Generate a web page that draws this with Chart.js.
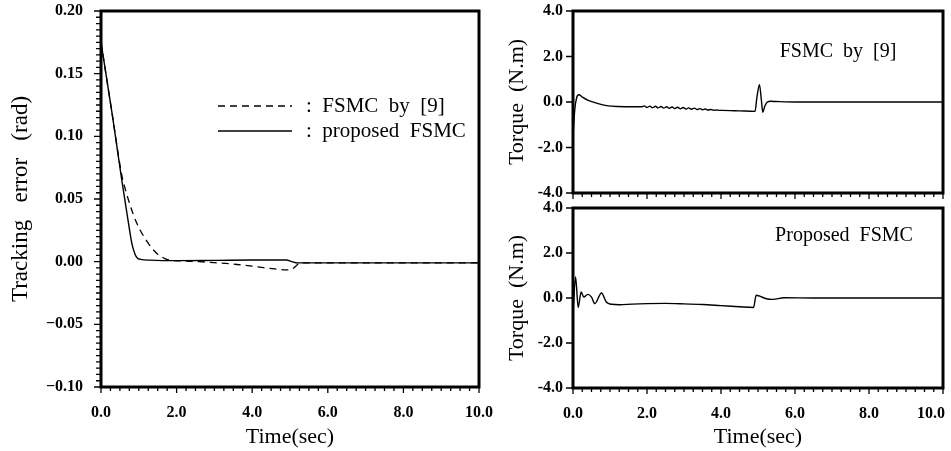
<!DOCTYPE html>
<html>
<head>
<meta charset="UTF-8">
<title>Tracking error and control torque</title>
<script src="https://cdn.jsdelivr.net/npm/chart.js"></script>
<style>
  body { margin: 0; background: #fff; }
  #wrap { position: relative; width: 951px; height: 451px; overflow: hidden; }
  canvas { position: absolute; }
</style>
</head>
<body>
<div id="wrap">
  <canvas id="errChart" width="500" height="451" style="left:0;top:0"></canvas>
  <canvas id="torqueTop" width="451" height="200" style="left:500px;top:0"></canvas>
  <canvas id="torqueBottom" width="451" height="251" style="left:500px;top:200px"></canvas>
</div>
<script>
// axis ticks
const timeTicks = [0, 2, 4, 6, 8, 10];
const errTicks = [-0.10, -0.05, 0, 0.05, 0.10, 0.15, 0.20];
const torqueTicks = [-4, -2, 0, 2, 4];

// tracking error, FSMC by [9] (dashed)
const tOld = [0, 0.3, 0.55, 0.68, 0.85, 1.03, 1.2, 1.34, 1.5, 1.69, 1.9, 2.2, 2.6, 3.0, 3.4, 3.7, 4.0, 4.3, 4.6, 4.9, 5.05, 5.18, 5.26, 5.4, 6, 8, 10];
const errOld = [0.175, 0.117, 0.069, 0.054, 0.038, 0.0255, 0.017, 0.011, 0.006, 0.0025, 0.001, 0.0005, 0, -0.0008, -0.0016, -0.0026, -0.0036, -0.0048, -0.0058, -0.0066, -0.006, -0.0028, -0.0006, -0.001, -0.001, -0.001, -0.001];

// tracking error, proposed FSMC (solid)
const tNew = [0, 0.3, 0.55, 0.7, 0.82, 0.9, 0.96, 1.05, 1.3, 2.0, 3.0, 4.0, 4.9, 5.05, 5.2, 6, 8, 10];
const errNew = [0.175, 0.117, 0.065, 0.036, 0.014, 0.006, 0.003, 0.0018, 0.0012, 0.0008, 0.001, 0.0013, 0.0013, 0.0, -0.001, -0.001, -0.001, -0.001];

// torque, FSMC by [9]
const tTorqueOld = [0, 0.05, 0.1, 0.16, 0.25, 0.41, 0.68, 0.95, 1.22, 1.6,
  1.85, 1.93, 2.00, 2.08, 2.15, 2.23, 2.30, 2.38, 2.45, 2.53, 2.60, 2.68, 2.75, 2.83, 2.90, 2.98,
  3.05, 3.13, 3.20, 3.28, 3.35, 3.43, 3.50, 3.58, 3.65, 3.73, 3.80, 3.88, 3.95, 4.03,
  4.5, 4.92, 4.97, 5.04, 5.09, 5.13, 5.18, 5.24, 5.35, 5.5, 6, 10];
const torqueOld = [-1.5, -0.3, 0.2, 0.32, 0.22, 0.07, -0.07, -0.17, -0.2, -0.21,
  -0.21, -0.17, -0.24, -0.18, -0.25, -0.19, -0.26, -0.2, -0.27, -0.21, -0.28, -0.22, -0.29, -0.23, -0.3, -0.24,
  -0.31, -0.26, -0.32, -0.27, -0.33, -0.29, -0.34, -0.31, -0.35, -0.33, -0.36, -0.35, -0.37, -0.37,
  -0.39, -0.41, 0.2, 0.76, 0.1, -0.45, -0.2, -0.02, 0.03, 0.02, 0, 0];

// torque, proposed FSMC
const tTorqueNew = [0, 0.07, 0.14, 0.22, 0.29, 0.4, 0.5, 0.59, 0.77, 0.9, 1.04, 1.26, 1.6, 2.0, 2.5, 3.0, 3.5, 4.0, 4.5, 4.88, 4.95, 5.05, 5.2, 5.4, 5.7, 6.5, 10];
const torqueNew = [-0.68, 0.93, -0.42, 0.27, 0.04, 0.16, 0.04, -0.25, 0.22, -0.18, -0.28, -0.3, -0.27, -0.25, -0.24, -0.26, -0.29, -0.34, -0.39, -0.42, 0.12, 0.08, -0.02, -0.06, 0.01, 0, 0];

const SERIF = '"Liberation Serif", "Times New Roman", serif';
Chart.defaults.font.family = SERIF;
Chart.defaults.color = '#000';

const pts = (xs, ys) => xs.map((x, i) => ({ x, y: ys[i] }));

// keep the plot box where layout.padding puts it, labels may overhang
const noOverhang = s => { s.paddingLeft = s.paddingRight = s.paddingTop = s.paddingBottom = 0; };

// heavy box round the plot area plus small outward ticks
const framePlugin = {
  id: 'frame',
  afterDatasetsDraw(chart, args, opts) {
    const { ctx, chartArea: a, scales: { x, y } } = chart;
    ctx.save();
    ctx.strokeStyle = '#000';
    ctx.lineWidth = 1.3;
    ctx.beginPath();
    if (opts.xMinor) {
      const n = Math.round((x.max - x.min) / opts.xMinor);
      for (let i = 0; i <= n; i++) {
        const v = x.min + i * opts.xMinor;
        const px = x.getPixelForValue(v);
        const major = timeTicks.some(t => Math.abs(t - v) < 1e-6);
        ctx.moveTo(px, a.bottom);
        ctx.lineTo(px, a.bottom + (major ? 6 : 4));
      }
    }
    if (opts.yMinor) {
      const n = Math.round((y.max - y.min) / opts.yMinor);
      for (let i = 0; i <= n; i++) {
        const py = y.getPixelForValue(y.min + i * opts.yMinor);
        ctx.moveTo(a.left, py);
        ctx.lineTo(a.left - 5, py);
      }
    }
    y.ticks.forEach(t => {
      const py = y.getPixelForValue(t.value);
      ctx.moveTo(a.left, py);
      ctx.lineTo(a.left - 7, py);
    });
    ctx.stroke();
    ctx.lineWidth = 3;
    ctx.strokeRect(a.left, a.top, a.right - a.left, a.bottom - a.top);
    ctx.restore();
  }
};

// line-sample key for the tracking error plot
const keyPlugin = {
  id: 'key',
  afterDraw(chart, args, opts) {
    if (!opts.show) return;
    const { ctx } = chart;
    ctx.save();
    chart.data.datasets.forEach((ds, i) => {
      const y = opts.y + i * opts.gap;
      ctx.strokeStyle = '#000';
      ctx.lineWidth = ds.borderWidth;
      ctx.setLineDash(ds.borderDash || []);
      ctx.beginPath();
      ctx.moveTo(opts.x, y);
      ctx.lineTo(opts.x + opts.len, y);
      ctx.stroke();
      ctx.setLineDash([]);
      ctx.font = '21px ' + SERIF;
      ctx.textBaseline = 'middle';
      ctx.fillStyle = '#000';
      ctx.fillText(':  ' + ds.label, opts.x + opts.len + 14, y);
    });
    ctx.restore();
  }
};

// caption inside the torque plots
const captionPlugin = {
  id: 'caption',
  afterDraw(chart, args, opts) {
    if (!opts.text) return;
    const { ctx } = chart;
    ctx.save();
    ctx.font = '20px ' + SERIF;
    ctx.textAlign = 'center';
    ctx.textBaseline = 'middle';
    ctx.fillStyle = '#000';
    ctx.fillText(opts.text, opts.x, opts.y);
    ctx.restore();
  }
};

Chart.register(framePlugin, keyPlugin, captionPlugin);

const lineStyle = {
  borderColor: '#000',
  borderWidth: 1.4,
  pointRadius: 0,
  fill: false,
  cubicInterpolationMode: 'monotone'
};

function timeAxis(show, height, label) {
  return {
    type: 'linear', min: 0, max: 10, display: show,
    afterBuildTicks: s => { s.ticks = timeTicks.map(v => ({ value: v })); },
    afterFit: s => { s.height = height; noOverhang(s); },
    grid: { display: false, drawTicks: false }, border: { display: false },
    ticks: { padding: 16, autoSkip: false, maxRotation: 0, font: { size: 16, weight: 'bold' }, callback: label || (v => v.toFixed(1)) },
    title: { display: true, text: 'Time(sec)', font: { size: 22 }, padding: { top: 0, bottom: 1 } }
  };
}

function torqueAxis() {
  return {
    min: -4, max: 4,
    afterBuildTicks: s => { s.ticks = torqueTicks.map(v => ({ value: v })); },
    afterFit: s => { s.width = 73; noOverhang(s); },
    grid: { display: false, drawTicks: false }, border: { display: false },
    ticks: { padding: 10, autoSkip: false, font: { size: 16, weight: 'bold' }, callback: v => v.toFixed(1) },
    title: { display: true, text: 'Torque  (N.m)', font: { size: 22 }, padding: { top: 4 } }
  };
}

const common = {
  responsive: false,
  animation: false,
  events: []
};

new Chart(document.getElementById('errChart'), {
  type: 'line',
  data: {
    datasets: [
      { ...lineStyle, label: 'FSMC  by  [9]', data: pts(tOld, errOld), borderDash: [7, 5], borderWidth: 1.3 },
      { ...lineStyle, label: 'proposed  FSMC', data: pts(tNew, errNew) }
    ]
  },
  options: {
    ...common,
    layout: { padding: { top: 11, right: 21, left: 0, bottom: 0 } },
    scales: {
      x: timeAxis(true, 64),
      y: {
        min: -0.1, max: 0.2,
        afterBuildTicks: s => { s.ticks = errTicks.map(v => ({ value: v })); },
        afterFit: s => { s.width = 101; noOverhang(s); },
        grid: { display: false, drawTicks: false }, border: { display: false },
        ticks: { padding: 18, autoSkip: false, font: { size: 16, weight: 'bold' }, callback: v => v.toFixed(2).replace('-', '\u2212') },
        title: { display: true, text: 'Tracking   error   (rad)', font: { size: 23 }, padding: { top: 7 } }
      }
    },
    plugins: {
      legend: { display: false },
      tooltip: { enabled: false },
      frame: { xMinor: 0.25, yMinor: 0.005 },
      key: { show: true, x: 218, y: 106, gap: 25, len: 74 }
    }
  }
});

new Chart(document.getElementById('torqueTop'), {
  type: 'line',
  data: { datasets: [{ ...lineStyle, label: 'FSMC by [9]', data: pts(tTorqueOld, torqueOld) }] },
  options: {
    ...common,
    layout: { padding: { top: 11, right: 8, left: 0, bottom: 7 } },
    scales: { x: timeAxis(false, 0), y: torqueAxis() },
    plugins: {
      legend: { display: false },
      tooltip: { enabled: false },
      frame: { xMinor: 0.25 },
      caption: { text: 'FSMC  by  [9]', x: 338, y: 52 }
    }
  }
});

// last time label sits inside the window edge
const edgeLabel = v => v === 10 ? '10.0\u2002\u2002\u2002' : v.toFixed(1);

new Chart(document.getElementById('torqueBottom'), {
  type: 'line',
  data: { datasets: [{ ...lineStyle, label: 'Proposed FSMC', data: pts(tTorqueNew, torqueNew) }] },
  options: {
    ...common,
    layout: { padding: { top: 8, right: 8, left: 0, bottom: 0 } },
    scales: { x: timeAxis(true, 63, edgeLabel), y: torqueAxis() },
    plugins: {
      legend: { display: false },
      tooltip: { enabled: false },
      frame: { xMinor: 0.25 },
      caption: { text: 'Proposed  FSMC', x: 344, y: 36 }
    }
  }
});
</script>
</body>
</html>
